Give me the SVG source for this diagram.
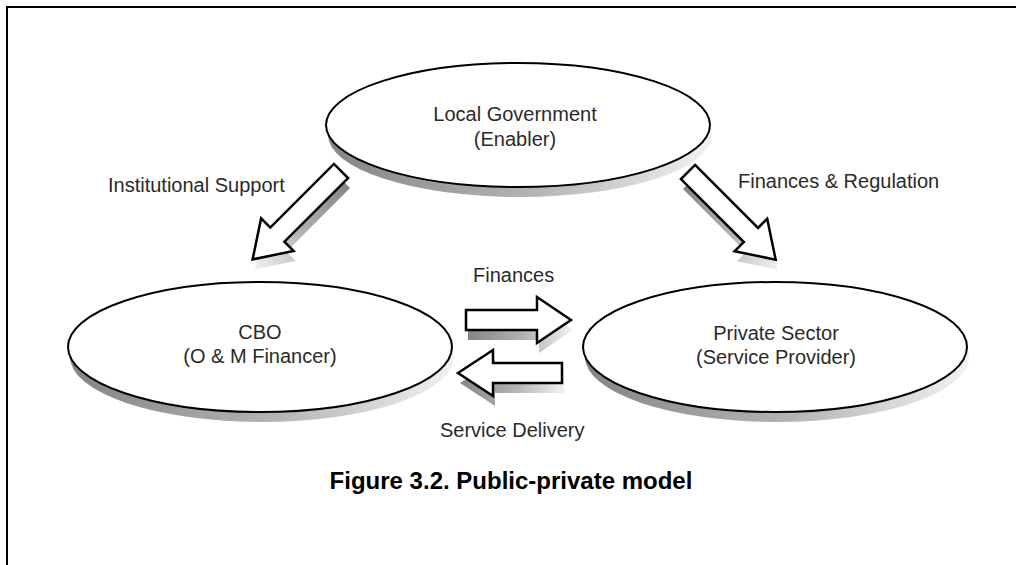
<svg xmlns="http://www.w3.org/2000/svg" width="1016" height="565" viewBox="0 0 1016 565">
<style>
.node{fill:#fff;stroke:#000;stroke-width:2}
.shadow{fill:url(#sh);stroke:none}
.arrow{fill:#fff;stroke:#000;stroke-width:2.5;stroke-linejoin:miter}
.t{font-family:"Liberation Sans",Arial,sans-serif;font-size:20px;fill:#2a2a2a;text-anchor:middle}
.lbl{font-family:"Liberation Sans",Arial,sans-serif;font-size:20px;fill:#2a2a2a}
.cap{font-family:"Liberation Sans",Arial,sans-serif;font-size:24px;font-weight:bold;fill:#000;text-anchor:middle}
</style>
<defs>
<linearGradient id="sh" x1="0" y1="0" x2="1" y2="0">
<stop offset="0" stop-color="#858585"/>
<stop offset="0.55" stop-color="#b5b5b5"/>
<stop offset="1" stop-color="#f2f2f2"/>
</linearGradient>
<polygon id="ah" points="0,-10 -35,-10 -35,-23 0,0 -35,23 -35,10 0,10"/>
</defs>
<rect width="1016" height="565" fill="#fff"/>
<path d="M7,565 V7 H1016" fill="none" stroke="#000" stroke-width="2"/>

<g id="local-government">
<ellipse class="shadow" cx="520" cy="135" rx="192" ry="62"/>
<ellipse class="node" cx="518" cy="125" rx="192" ry="62"/>
<text class="t" x="515" y="121">Local Government</text>
<text class="t" x="515" y="146">(Enabler)</text>
</g>

<g id="cbo">
<ellipse class="shadow" cx="262" cy="357" rx="192" ry="65"/>
<ellipse class="node" cx="260" cy="347" rx="192" ry="65"/>
<text class="t" x="260" y="339">CBO</text>
<text class="t" x="260" y="363">(O &amp; M Financer)</text>
</g>

<g id="private-sector">
<ellipse class="shadow" cx="777" cy="357" rx="192" ry="65"/>
<ellipse class="node" cx="775" cy="347" rx="192" ry="65"/>
<text class="t" x="776" y="340">Private Sector</text>
<text class="t" x="776" y="364">(Service Provider)</text>
</g>

<g id="connectors">
<g transform="translate(341,171) rotate(135)">
<polygon class="shadow" transform="rotate(-135) translate(2,10) rotate(135)" points="0,-10 90,-10 90,-23 125,0 90,23 90,10 0,10"/>
<polygon class="arrow" points="0,-10 90,-10 90,-23 125,0 90,23 90,10 0,10"/>
</g>
<g transform="translate(688,172) rotate(45)">
<polygon class="shadow" transform="rotate(-45) translate(2,10) rotate(45)" points="0,-10 89,-10 89,-23 124,0 89,23 89,10 0,10"/>
<polygon class="arrow" points="0,-10 89,-10 89,-23 124,0 89,23 89,10 0,10"/>
</g>
<g transform="translate(466,320)">
<polygon class="shadow" transform="translate(2,10)" points="0,-10 71,-10 71,-23 105,0 71,23 71,10 0,10"/>
<polygon class="arrow" points="0,-10 71,-10 71,-23 105,0 71,23 71,10 0,10"/>
</g>
<g>
<polygon class="shadow" transform="translate(2,10)" points="562,363 493,363 493,350 458,373 493,396 493,383 562,383"/>
<polygon class="arrow" points="562,363 493,363 493,350 458,373 493,396 493,383 562,383"/>
</g>
<text class="lbl" x="108" y="192">Institutional Support</text>
<text class="lbl" x="738" y="188">Finances &amp; Regulation</text>
<text class="lbl" x="473" y="282">Finances</text>
<text class="lbl" x="440" y="437">Service Delivery</text>
</g>

<text class="cap" x="511" y="489">Figure 3.2. Public-private model</text>
</svg>
